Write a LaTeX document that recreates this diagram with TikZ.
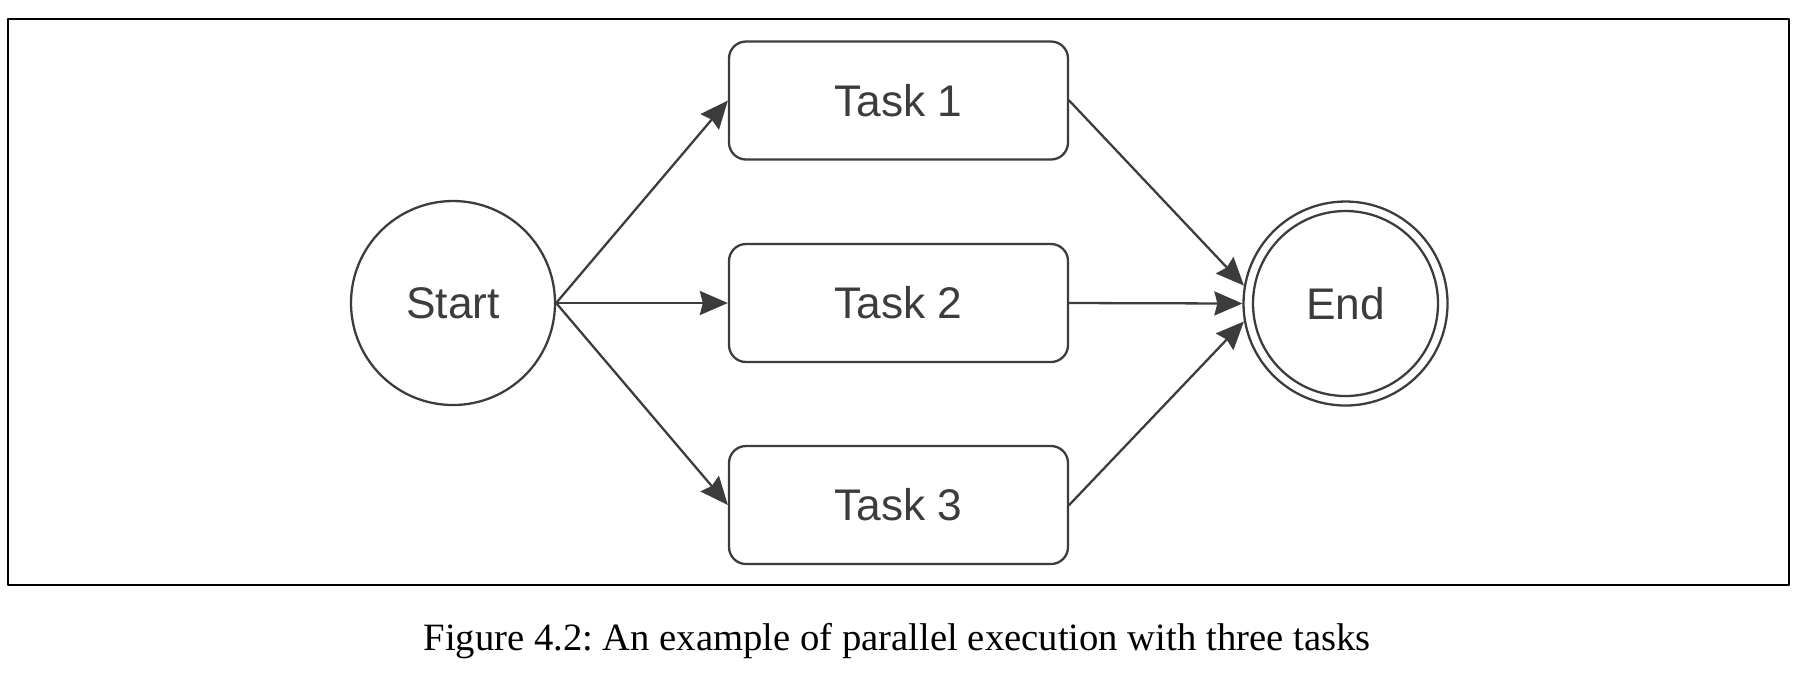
\documentclass[tikz,border=0pt]{standalone}
\usepackage{fontspec}
\setmainfont{Liberation Serif}
\setsansfont{Liberation Sans}
\usetikzlibrary{arrows.meta}
\definecolor{ink}{HTML}{3C3C3C}
\frenchspacing

\begin{document}
\begin{tikzpicture}[
  font=\sffamily, >={Stealth[length=2.8mm, width=2.4mm, inset=0.3mm]},
  line cap=round, line join=round,
  lbl/.style={text=ink, font=\sffamily\fontsize{12.6}{15}\selectfont},
  state/.style={lbl, draw=ink, line width=0.65pt, circle, minimum size=20.4mm,
    inner sep=0pt},
  task/.style={lbl, draw=ink, line width=0.65pt, rounded corners=1.7mm,
    minimum width=33.9mm, minimum height=11.8mm, inner sep=0pt},
  flow/.style={->, draw=ink, line width=0.65pt},
  figcap/.style={font=\rmfamily\fontsize{11}{13}\selectfont, anchor=base}]

\useasboundingbox (0,0) rectangle (18.14,-6.80);

% ============================================== frame
\draw[black, line width=0.8pt] (0.08,-0.19) rectangle (17.89,-5.85);

% ============================================== start, tasks, end
\node[state] (start) at (4.53,-3.03) {Start};

\node[task] (t1) at (8.985,-1.005) {Task 1};
\node[task] (t2) at (8.985,-3.03)  {Task 2};
\node[task] (t3) at (8.985,-5.05)  {Task 3};

\node[state] (end) at (13.455,-3.035) {End};
\draw[ink, line width=0.65pt] (end.center) circle (9.25mm);

% fork and join
\foreach \t in {t1,t2,t3}
  \draw[flow] (start.east) -- (\t.west);
\draw[flow] (t1.east) -- (end.170);
\draw[flow] (t2.east) -- (end.west);
\draw[flow] (t3.east) -- (end.190);

% ---------------------------------------------------------------- caption
\node[figcap] (cap) at (8.97,-6.50)
  {Figure 4.2: An example of parallel execution with three tasks};

\end{tikzpicture}
\end{document}
